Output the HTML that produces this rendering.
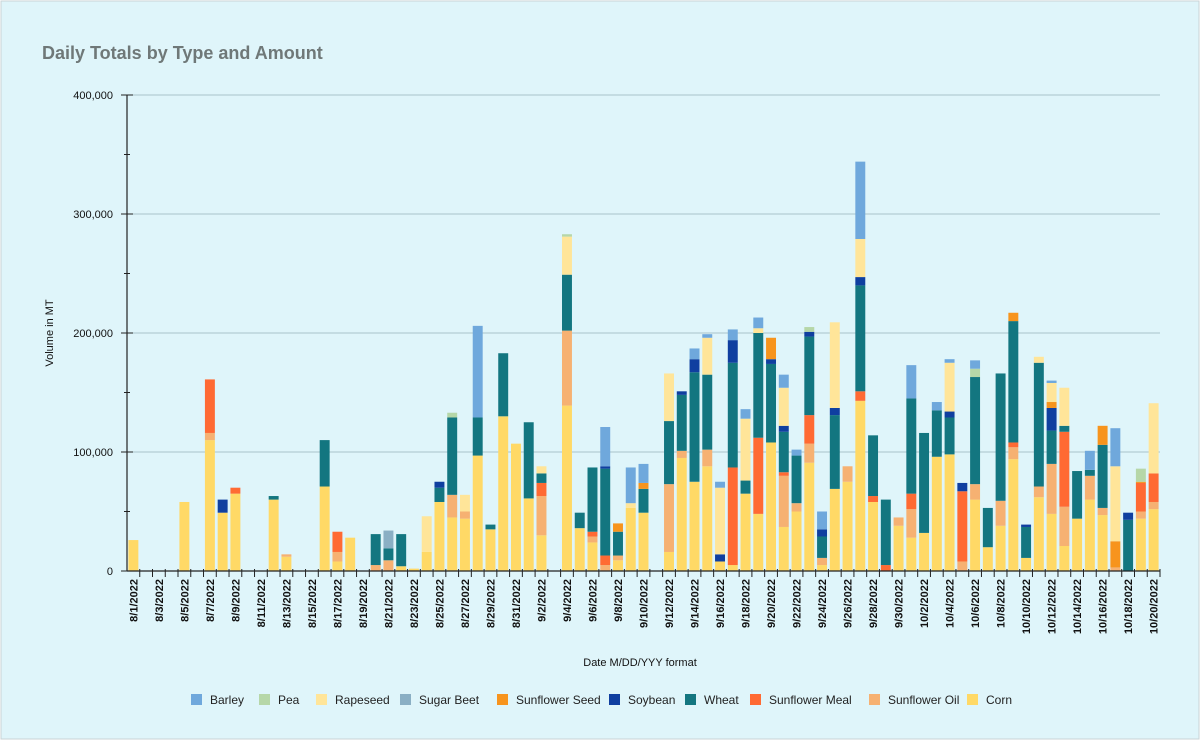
<!DOCTYPE html>
<html><head><meta charset="utf-8">
<style>
html,body{margin:0;padding:0;background:#fff;}
#wrap{position:absolute;left:0;top:0;width:1200px;height:740px;}
svg{display:block;font-family:"Liberation Sans",Arial,sans-serif;}
</style></head>
<body>
<div id="wrap">
<svg id="chart" width="1200" height="740">
<rect x="1" y="1" width="1198" height="738" fill="#dff5fa" stroke="#c9d3d6"/>
<text x="42" y="59" font-size="18" font-weight="bold" fill="#6f7878">Daily Totals by Type and Amount</text>
<text transform="translate(53,333) rotate(-90)" text-anchor="middle" font-size="11" fill="#111">Volume in MT</text>
<text x="640" y="666" text-anchor="middle" font-size="11" fill="#111">Date M/DD/YYY format</text>
<g id="grid"></g><g id="bars"></g><g id="axes"></g><g id="legend"></g>
</svg>
</div>
<script>
const yTicks=[0,100000,200000,300000,400000];
const seriesNames=["Corn","Sunflower Oil","Sunflower Meal","Wheat","Soybean","Sunflower Seed","Sugar Beet","Rapeseed","Pea","Barley"];
const legendOrder=["Barley","Pea","Rapeseed","Sugar Beet","Sunflower Seed","Soybean","Wheat","Sunflower Meal","Sunflower Oil","Corn"];
const colors={"Barley":"#6fa8dc","Pea":"#b6d7a8","Rapeseed":"#ffe599","Sugar Beet":"#8aafc4","Sunflower Seed":"#f7941d","Soybean":"#0f3fa0","Wheat":"#137680","Sunflower Meal":"#ff6a33","Sunflower Oil":"#f6b172","Corn":"#ffd966"};
// values in thousands MT, one per day 8/1..10/20
const corn=[26,0,0,0,58,0,110,49,65,0, 0,60,12,0,0,71,8,28,0,0, 0,4,2,16,58,45,44,97,35,130, 107,61,30,0,139,36,24,0,9,53, 49,0,16,95,75,88,8,5,65,48, 108,37,50,91,5,69,75,143,58,0, 38,28,32,96,98,0,60,20,38,94, 11,62,48,21,44,60,47,0,0,44, 52];
const sunflowerOil=[0,0,0,0,0,0,6,0,0,0, 0,0,2,0,0,0,8,0,0,5, 9,0,0,0,0,19,6,0,0,0, 0,0,33,0,63,0,5,5,4,0, 0,0,57,6,0,14,0,0,0,0, 0,43,7,16,6,0,13,0,0,0, 7,24,0,0,0,8,13,0,21,10, 0,9,42,33,0,20,6,3,0,6, 6];
const sunflowerMeal=[0,0,0,0,0,0,45,0,5,0, 0,0,0,0,0,0,17,0,0,0, 0,0,0,0,0,0,0,0,0,0, 0,0,11,0,0,0,4,8,0,0, 0,0,0,0,0,0,0,82,0,64, 0,3,0,24,0,0,0,8,5,5, 0,13,0,0,0,59,0,0,0,4, 0,0,0,63,0,0,0,0,0,24, 24];
const wheat=[0,0,0,0,0,0,0,0,0,0, 0,3,0,0,0,39,0,0,0,26, 10,27,0,0,12,65,0,32,4,53, 0,64,8,0,47,13,54,73,20,0, 20,0,53,47,92,63,0,88,11,88, 66,34,40,66,18,62,0,89,51,55, 0,80,84,39,31,0,90,33,107,102, 26,104,28,5,40,5,53,0,43,0, 0];
const soybean=[0,0,0,0,0,0,0,11,0,0, 0,0,0,0,0,0,0,0,0,0, 0,0,0,0,5,0,0,0,0,0, 0,0,0,0,0,0,0,2,0,0, 0,0,0,3,11,0,6,19,0,0, 4,5,0,4,6,6,0,7,0,0, 0,0,0,0,5,7,0,0,0,0, 2,0,19,0,0,0,0,0,6,0, 0];
const sunflowerSeed=[0,0,0,0,0,0,0,0,0,0, 0,0,0,0,0,0,0,0,0,0, 0,0,0,0,0,0,0,0,0,0, 0,0,0,0,0,0,0,0,7,0, 5,0,0,0,0,0,0,0,0,0, 18,0,0,0,0,0,0,0,0,0, 0,0,0,0,0,0,0,0,0,7, 0,0,5,0,0,0,16,22,0,1, 0];
const sugarBeet=[0,0,0,0,0,0,0,0,0,0, 0,0,0,0,0,0,0,0,0,0, 15,0,0,0,0,0,0,0,0,0, 0,0,0,0,0,0,0,0,0,0, 0,0,0,0,0,0,0,0,0,0, 0,0,0,0,0,0,0,0,0,0, 0,0,0,0,0,0,0,0,0,0, 0,0,0,0,0,0,0,0,0,0, 0];
const rapeseed=[0,0,0,0,0,0,0,0,0,0, 0,0,0,0,0,0,0,0,0,0, 0,0,0,30,0,0,14,0,0,0, 0,0,6,0,32,0,0,0,0,4, 0,0,40,0,0,31,56,0,52,4, 0,32,0,0,0,72,0,32,0,0, 0,0,0,0,41,0,0,0,0,0, 0,5,16,32,0,0,0,63,0,0, 59];
const pea=[0,0,0,0,0,0,0,0,0,0, 0,0,0,0,0,0,0,0,0,0, 0,0,0,0,0,4,0,0,0,0, 0,0,0,0,2,0,0,0,0,0, 0,0,0,0,0,0,0,0,0,0, 0,0,0,4,0,0,0,0,0,0, 0,0,0,0,0,0,7,0,0,0, 0,0,0,0,0,0,0,0,0,11, 0];
const barley=[0,0,0,0,0,0,0,0,0,0, 0,0,0,0,0,0,0,0,0,0, 0,0,0,0,0,0,0,77,0,0, 0,0,0,0,0,0,0,33,0,30, 16,0,0,0,9,3,5,9,8,9, 0,11,5,0,15,0,0,65,0,0, 0,28,0,7,3,0,7,0,0,0, 0,0,2,0,0,16,0,32,0,0, 0];
const seriesData=[corn,sunflowerOil,sunflowerMeal,wheat,soybean,sunflowerSeed,sugarBeet,rapeseed,pea,barley];

const NS="http://www.w3.org/2000/svg";
const X0=127,X1=1160,Y0=571,YT=95,YMAX=400000;
const nDays=corn.length;
const step=(X1-X0)/nDays;
const xC=i=>X0+step*(i+0.5);
const yS=v=>Y0-(v/YMAX)*(Y0-YT);
function mk(tag,attrs,parent){const e=document.createElementNS(NS,tag);for(const k in attrs)e.setAttribute(k,attrs[k]);parent.appendChild(e);return e;}
const grid=document.getElementById('grid'),bars=document.getElementById('bars'),axes=document.getElementById('axes'),leg=document.getElementById('legend');
// gridlines + y labels
yTicks.forEach(t=>{
  const y=yS(t);
  if(t>0){const g=mk('line',{x1:X0,x2:X1,y1:y,y2:y,stroke:'#a9c3c9','stroke-width':1},grid);
    
    }
  const lb=mk('text',{x:X0-14,y:y+4,'text-anchor':'end','font-size':11,fill:'#111'},axes);
  lb.textContent=t.toLocaleString('en-US');
  
  
  mk('line',{x1:X0-6,x2:X0+6,y1:y,y2:y,stroke:'#222'},axes);
  if(t<400000){const ym=yS(t+50000);mk('line',{x1:X0-3,x2:X0+3,y1:ym,y2:ym,stroke:'#222'},axes);}
});
// bars
const bw=step*0.78;
for(let i=0;i<nDays;i++){
  let cum=0;
  for(let s=0;s<seriesData.length;s++){
    const v=seriesData[s][i]*1000;
    if(v<=0)continue;
    const y1=yS(cum),y2=yS(cum+v);
    const r=mk('rect',{x:xC(i)-bw/2,y:y2,width:bw,height:y1-y2,fill:colors[seriesNames[s]]},bars);
    
    
    cum+=v;
  }
}
// axes lines
mk('line',{x1:X0,x2:X0,y1:YT,y2:Y0,stroke:'#222','stroke-width':1.2},axes);
mk('line',{x1:X0,x2:X1,y1:Y0,y2:Y0,stroke:'#222','stroke-width':1.2},axes);
const d0=new Date(2022,7,1);
for(let i=0;i<nDays;i++){
  const xb=X0+step*(i+1);
  mk('line',{x1:xb,x2:xb,y1:Y0-2,y2:Y0+6,stroke:'#222'},axes);
  if(i%2===0){
    const d=new Date(d0.getTime()+i*86400000);
    const lbl=(d.getMonth()+1)+'/'+d.getDate()+'/2022';
    const t=mk('text',{transform:`translate(${xC(i)+4},${Y0+8}) rotate(-90)`,'text-anchor':'end','font-size':11,'font-weight':'bold',fill:'#111'},axes);
    t.textContent=lbl;
    
    
  }
}
// legend
const legX=[191,259,316,400,497,609,685,750,869,967];
legendOrder.forEach((n,k)=>{
  const g=mk('g',{},leg);
  
  
  mk('rect',{x:legX[k],y:694,width:11,height:11,fill:colors[n]},g);
  const t=mk('text',{x:legX[k]+19,y:704,'font-size':12,fill:'#222'},g);
  t.textContent=n;
});
</script>
</body></html>
